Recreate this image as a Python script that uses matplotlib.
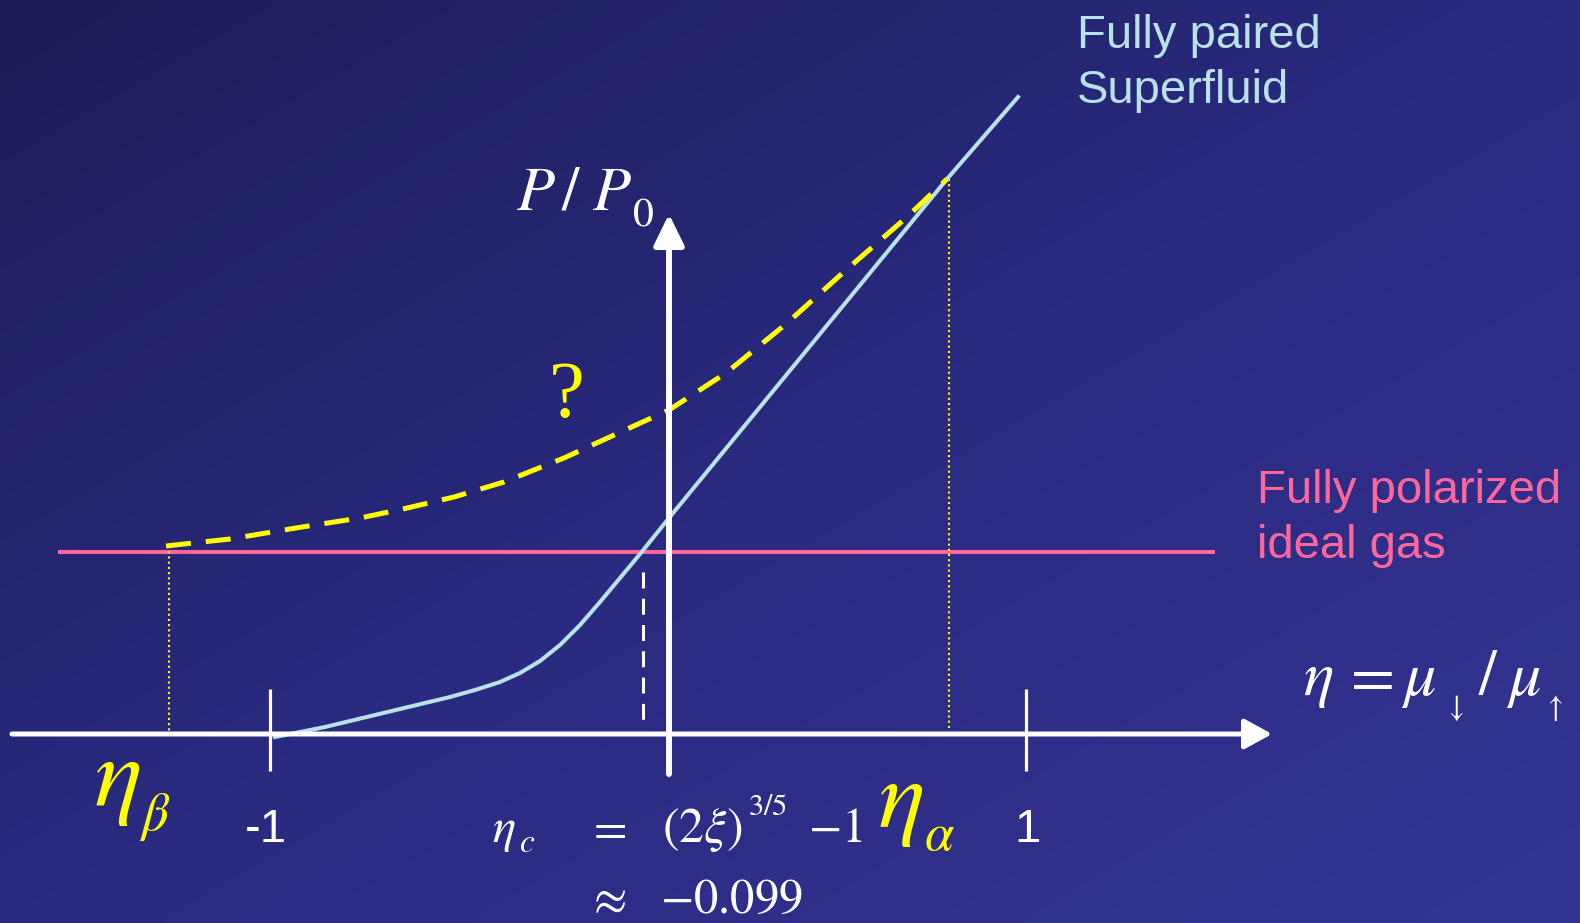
import numpy as np
import matplotlib
matplotlib.use("Agg")
import matplotlib.pyplot as plt
from matplotlib.colors import LinearSegmentedColormap

plt.rcParams['mathtext.fontset'] = 'stix'
plt.rcParams['font.family'] = ['Liberation Sans', 'DejaVu Sans']

W, H = 1580, 923

# Sketch coordinates (canvas units, y grows downward)
axis_y = 734
axis_x0, axis_x1 = 12, 1272
paxis_x = 669
paxis_y0, paxis_y1 = 774, 214
tick_x = [270, 1026]
tick_labels = ['-1', '1']
tick_y0, tick_y1 = 689, 771

# Fully polarized ideal gas pressure level
gas_level = 552
gas_x = [58, 1215]

# Fully paired superfluid pressure curve
sf_x = [275, 300, 325, 350, 375, 400, 425, 450, 475, 500, 520, 540, 560, 580,
        600, 620, 640, 669, 947, 1018]
sf_y = [737, 732, 727, 721, 715, 709, 703, 697, 690, 682, 673, 661, 645, 625,
        602, 578, 554, 518, 179, 97]

# Conjectured partially polarized phase
pp_x = [166, 230, 302, 360, 403, 454, 504, 564, 625, 669, 726, 786, 846, 907, 947]
pp_y = [546, 539, 527, 518, 509, 497, 482, 458, 430, 410, 373, 324, 270, 217, 179]

eta_beta_x = 169
eta_alpha_x = 949
eta_c_x = 643

fig = plt.figure(figsize=(W / 100, H / 100), dpi=100)
ax = fig.add_axes([0, 0, 1, 1])
ax.set_xlim(0, W)
ax.set_ylim(H, 0)
ax.axis('off')

# Diagonal background gradient
gx, gy = np.meshgrid(np.linspace(0, 1, 200), np.linspace(0, 1, 120))
t = (gx + gy) / 2
cmap = LinearSegmentedColormap.from_list('bg', ['#1d1c57', '#2a2a80', '#343494'])
ax.imshow(t, cmap=cmap, extent=[0, W, H, 0], aspect='auto', zorder=0,
          interpolation='bicubic')

white = 'white'
yellow = '#ffff00'
pink = '#ff679c'
cyan = '#b8e2e8'

# Axes arrows
ax.annotate('', xy=(axis_x1, axis_y), xytext=(axis_x0, axis_y),
            arrowprops=dict(arrowstyle='-|>,head_length=0.4,head_width=0.22',
                            lw=3.6, color=white, mutation_scale=42,
                            shrinkA=0, shrinkB=0), zorder=5)
ax.annotate('', xy=(paxis_x, paxis_y1), xytext=(paxis_x, paxis_y0),
            arrowprops=dict(arrowstyle='-|>,head_length=0.45,head_width=0.22',
                            lw=4.3, color=white, mutation_scale=42,
                            shrinkA=0, shrinkB=0), zorder=5)
for tx in tick_x:
    ax.plot([tx, tx], [tick_y0, tick_y1], color=white, lw=2.3, zorder=5,
            solid_capstyle='butt')

# Curves
ax.plot(gas_x, [gas_level, gas_level], color=pink, lw=2.9, zorder=3,
        solid_capstyle='butt')
ax.plot(sf_x, sf_y, color=cyan, lw=2.9, zorder=4, solid_joinstyle='round')
ax.plot(pp_x, pp_y, color=yellow, lw=3.6, zorder=4, dashes=(5.0, 3.0),
        dash_capstyle='butt')

# Guide lines
ax.plot([eta_beta_x, eta_beta_x], [pp_y[0], axis_y + 4], color=yellow, lw=1.5,
        ls=(0, (1, 1.5)), zorder=3)
ax.plot([eta_alpha_x, eta_alpha_x], [pp_y[-1], axis_y - 3], color=yellow, lw=1.5,
        ls=(0, (1, 1.5)), zorder=3)
ax.plot([eta_c_x, eta_c_x], [572, axis_y - 5], color=white, lw=2.2,
        dashes=(5.2, 3.4), zorder=3)

# Tick labels
for tx, lab in zip(tick_x, tick_labels):
    ax.text(tx - 4 if lab.startswith('-') else tx + 2, 842, lab, color=white,
            fontsize=34, ha='center', va='baseline', zorder=6)

# Phase labels
ax.text(1077, 48, 'Fully paired', color=cyan, fontsize=34, va='baseline')
ax.text(1077, 103, 'Superfluid', color=cyan, fontsize=34, va='baseline')
ax.text(1257, 503, 'Fully polarized', color=pink, fontsize=34, va='baseline')
ax.text(1257, 558, 'ideal gas', color=pink, fontsize=34, va='baseline')


def put(x, y, s, size, color=white):
    ax.text(x, y, s, color=color, fontsize=size, ha='left', va='baseline',
            zorder=6)


# Axis labels
put(516, 210, r'$P$', 45)
put(561, 210, r'$/$', 45)
put(592, 210, r'$P$', 45)
put(632, 225, r'$0$', 30)

put(1303, 695, r'$\eta$', 46)
put(1341, 695, r'$=$', 46)
put(1401, 695, r'$\mu$', 46)
put(1444, 716, r'$\downarrow$', 22)
put(1478, 695, r'$/$', 46)
put(1506, 695, r'$\mu$', 46)
put(1543, 716, r'$\uparrow$', 22)

# Critical values
put(94, 806, r'$\eta$', 72, yellow)
put(139, 830, r'$\beta$', 38, yellow)
put(878, 827, r'$\eta$', 70, yellow)
put(924, 850, r'$\alpha$', 38, yellow)
ax.text(567, 417, '?', color=yellow, fontsize=58, ha='center', va='baseline',
        family='Liberation Serif')

put(492, 842, r'$\eta$', 35)
put(519, 852, r'$c$', 24)
put(586, 842, r'$=$', 35)
put(662, 842, r'$(2\xi)$', 36)
put(748, 815, r'$3/5$', 22)
put(808, 842, r'$-1$', 35)
put(586, 913, r'$\approx$', 35)
put(660, 913, r'$-0.099$', 35)

fig.savefig('out.png', dpi=100)
